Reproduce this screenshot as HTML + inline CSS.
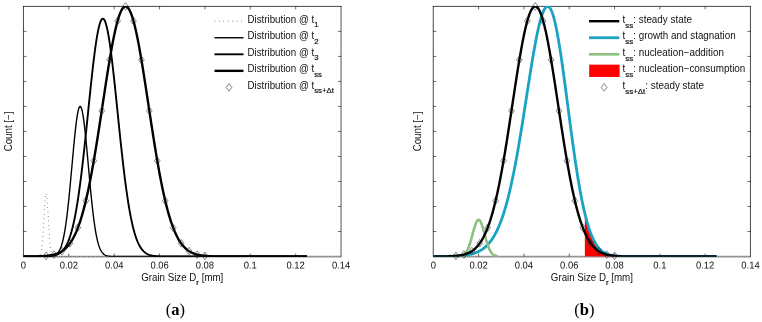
<!DOCTYPE html>
<html><head><meta charset="utf-8"><title>Figure</title>
<style>html,body{margin:0;padding:0;background:#fff}svg{display:block}</style></head>
<body>
<svg width="762" height="322" viewBox="0 0 762 322" font-family="Liberation Sans, Arial, sans-serif" font-size="10" fill="#111">
<rect width="762" height="322" fill="#fff"/>
<path d="M23.44,6.04V256.86" stroke="#000" stroke-width="0.72"/>
<path d="M23.08,6.40H341.41" stroke="#000" stroke-width="0.72"/>
<path d="M341.05,6.04V256.86" stroke="#000" stroke-width="1.6" stroke-opacity="0.42"/>
<path d="M23.08,256.60H341.41" stroke="#000" stroke-width="1.6" stroke-opacity="0.42"/>
<path d="M68.81,256.50v-3.0M68.81,6.40v3.0M114.19,256.50v-3.0M114.19,6.40v3.0M159.56,256.50v-3.0M159.56,6.40v3.0M204.93,256.50v-3.0M204.93,6.40v3.0M250.30,256.50v-3.0M250.30,6.40v3.0M295.68,256.50v-3.0M295.68,6.40v3.0M23.44,231.49h3.0M341.05,231.49h-3.0M23.44,206.48h3.0M341.05,206.48h-3.0M23.44,181.47h3.0M341.05,181.47h-3.0M23.44,156.46h3.0M341.05,156.46h-3.0M23.44,131.45h3.0M341.05,131.45h-3.0M23.44,106.44h3.0M341.05,106.44h-3.0M23.44,81.43h3.0M341.05,81.43h-3.0M23.44,56.42h3.0M341.05,56.42h-3.0M23.44,31.41h3.0M341.05,31.41h-3.0" stroke="#000" stroke-width="0.72" stroke-opacity="0.8" fill="none"/>
<text transform="translate(23.44,268.60) rotate(0.06) scale(0.955,1)" text-anchor="middle" font-size="9.9">0</text>
<text transform="translate(68.81,268.60) rotate(0.06) scale(0.955,1)" text-anchor="middle" font-size="9.9">0.02</text>
<text transform="translate(114.19,268.60) rotate(0.06) scale(0.955,1)" text-anchor="middle" font-size="9.9">0.04</text>
<text transform="translate(159.56,268.60) rotate(0.06) scale(0.955,1)" text-anchor="middle" font-size="9.9">0.06</text>
<text transform="translate(204.93,268.60) rotate(0.06) scale(0.955,1)" text-anchor="middle" font-size="9.9">0.08</text>
<text transform="translate(250.30,268.60) rotate(0.06) scale(0.955,1)" text-anchor="middle" font-size="9.9">0.1</text>
<text transform="translate(295.68,268.60) rotate(0.06) scale(0.955,1)" text-anchor="middle" font-size="9.9">0.12</text>
<text transform="translate(341.05,268.60) rotate(0.06) scale(0.955,1)" text-anchor="middle" font-size="9.9">0.14</text>
<text transform="translate(182.25,280.70) rotate(0.02) scale(0.975,1)" text-anchor="middle">Grain Size D<tspan dy="4.0" font-size="8.0" stroke="#111" stroke-width="0.2">r</tspan><tspan dy="-4.0" stroke="none"> [mm]</tspan></text>
<text transform="translate(11.74,131.45) rotate(-90.02) scale(0.975,1)" text-anchor="middle">Count [−]</text>
<clipPath id="ca"><rect x="23.44" y="6.10" width="317.61" height="250.70"/></clipPath><g clip-path="url(#ca)">
<path d="M23.44,256.50 L24.01,256.50 L24.57,256.50 L25.14,256.50 L25.71,256.50 L26.28,256.50 L26.84,256.50 L27.41,256.50 L27.98,256.50 L28.54,256.50 L29.11,256.50 L29.68,256.50 L30.25,256.50 L30.81,256.50 L31.38,256.50 L31.95,256.50 L32.51,256.50 L33.08,256.50 L33.65,256.50 L34.22,256.50 L34.78,256.50 L35.35,256.50 L35.92,256.50 L36.48,256.50 L37.05,256.49 L37.62,256.46 L38.19,256.41 L38.75,256.27 L39.32,255.97 L39.89,255.36 L40.45,254.22 L41.02,252.21 L41.59,248.95 L42.16,244.07 L42.72,237.36 L43.29,228.92 L43.86,219.31 L44.42,209.57 L44.99,201.10 L45.56,195.29 L46.13,193.22 L46.69,195.29 L47.26,201.10 L47.83,209.57 L48.40,219.31 L48.96,228.92 L49.53,237.36 L50.10,244.07 L50.66,248.95 L51.23,252.21 L51.80,254.22 L52.37,255.36 L52.93,255.97 L53.50,256.27 L54.07,256.41 L54.63,256.46 L55.20,256.49 L55.77,256.50 L56.34,256.50 L56.90,256.50 L57.47,256.50 L58.04,256.50 L58.60,256.50 L59.17,256.50 L59.74,256.50 L60.31,256.50 L60.87,256.50 L61.44,256.50 L62.01,256.50 L62.57,256.50 L63.14,256.50 L63.71,256.50 L64.28,256.50 L64.84,256.50 L65.41,256.50 L65.98,256.50 L66.54,256.50 L67.11,256.50 L67.68,256.50 L68.25,256.50 L68.81,256.50 L69.38,256.50 L69.95,256.50 L70.51,256.50 L71.08,256.50 L71.65,256.50 L72.22,256.50 L72.78,256.50 L73.35,256.50 L73.92,256.50 L74.48,256.50 L75.05,256.50 L75.62,256.50 L76.19,256.50 L76.75,256.50 L77.32,256.50 L77.89,256.50 L78.45,256.50 L79.02,256.50 L79.59,256.50 L80.16,256.50 L80.72,256.50 L81.29,256.50 L81.86,256.50 L82.42,256.50 L82.99,256.50 L83.56,256.50 L84.13,256.50 L84.69,256.50 L85.26,256.50 L85.83,256.50 L86.39,256.50 L86.96,256.50 L87.53,256.50 L88.10,256.50 L88.66,256.50 L89.23,256.50 L89.80,256.50 L90.36,256.50 L90.93,256.50 L91.50,256.50 L92.07,256.50 L92.63,256.50 L93.20,256.50 L93.77,256.50 L94.34,256.50 L94.90,256.50 L95.47,256.50 L96.04,256.50 L96.60,256.50 L97.17,256.50 L97.74,256.50 L98.31,256.50 L98.87,256.50 L99.44,256.50 L100.01,256.50 L100.57,256.50 L101.14,256.50 L101.71,256.50 L102.28,256.50 L102.84,256.50 L103.41,256.50 L103.98,256.50 L104.54,256.50 L105.11,256.50 L105.68,256.50 L106.25,256.50 L106.81,256.50 L107.38,256.50 L107.95,256.50 L108.51,256.50 L109.08,256.50 L109.65,256.50 L110.22,256.50 L110.78,256.50 L111.35,256.50 L111.92,256.50 L112.48,256.50 L113.05,256.50 L113.62,256.50 L114.19,256.50 L114.75,256.50 L115.32,256.50 L115.89,256.50 L116.45,256.50 L117.02,256.50 L117.59,256.50 L118.16,256.50 L118.72,256.50 L119.29,256.50 L119.86,256.50 L120.42,256.50 L120.99,256.50 L121.56,256.50 L122.13,256.50 L122.69,256.50 L123.26,256.50 L123.83,256.50 L124.39,256.50 L124.96,256.50 L125.53,256.50 L126.10,256.50 L126.66,256.50 L127.23,256.50 L127.80,256.50 L128.36,256.50 L128.93,256.50 L129.50,256.50 L130.07,256.50 L130.63,256.50 L131.20,256.50 L131.77,256.50 L132.33,256.50 L132.90,256.50 L133.47,256.50 L134.04,256.50 L134.60,256.50 L135.17,256.50 L135.74,256.50 L136.30,256.50 L136.87,256.50 L137.44,256.50 L138.01,256.50 L138.57,256.50 L139.14,256.50 L139.71,256.50 L140.28,256.50 L140.84,256.50 L141.41,256.50 L141.98,256.50 L142.54,256.50 L143.11,256.50 L143.68,256.50 L144.25,256.50 L144.81,256.50 L145.38,256.50 L145.95,256.50 L146.51,256.50 L147.08,256.50 L147.65,256.50 L148.22,256.50 L148.78,256.50 L149.35,256.50 L149.92,256.50 L150.48,256.50 L151.05,256.50 L151.62,256.50 L152.19,256.50 L152.75,256.50 L153.32,256.50 L153.89,256.50 L154.45,256.50 L155.02,256.50 L155.59,256.50 L156.16,256.50 L156.72,256.50 L157.29,256.50 L157.86,256.50 L158.42,256.50 L158.99,256.50 L159.56,256.50 L160.13,256.50 L160.69,256.50 L161.26,256.50 L161.83,256.50 L162.39,256.50 L162.96,256.50 L163.53,256.50 L164.10,256.50 L164.66,256.50 L165.23,256.50 L165.80,256.50 L166.36,256.50 L166.93,256.50 L167.50,256.50 L168.07,256.50 L168.63,256.50 L169.20,256.50 L169.77,256.50 L170.33,256.50 L170.90,256.50 L171.47,256.50 L172.04,256.50 L172.60,256.50 L173.17,256.50 L173.74,256.50 L174.30,256.50 L174.87,256.50 L175.44,256.50 L176.01,256.50 L176.57,256.50 L177.14,256.50 L177.71,256.50 L178.27,256.50 L178.84,256.50 L179.41,256.50 L179.98,256.50 L180.54,256.50 L181.11,256.50 L181.68,256.50 L182.25,256.50 L182.81,256.50 L183.38,256.50 L183.95,256.50 L184.51,256.50 L185.08,256.50 L185.65,256.50 L186.22,256.50 L186.78,256.50 L187.35,256.50 L187.92,256.50 L188.48,256.50 L189.05,256.50 L189.62,256.50 L190.19,256.50 L190.75,256.50 L191.32,256.50 L191.89,256.50 L192.45,256.50 L193.02,256.50 L193.59,256.50 L194.16,256.50 L194.72,256.50 L195.29,256.50 L195.86,256.50 L196.42,256.50 L196.99,256.50 L197.56,256.50 L198.13,256.50 L198.69,256.50 L199.26,256.50 L199.83,256.50 L200.39,256.50 L200.96,256.50 L201.53,256.50 L202.10,256.50 L202.66,256.50 L203.23,256.50 L203.80,256.50 L204.36,256.50 L204.93,256.50 L205.50,256.50 L206.07,256.50 L206.63,256.50 L207.20,256.50 L207.77,256.50 L208.33,256.50 L208.90,256.50 L209.47,256.50 L210.04,256.50 L210.60,256.50 L211.17,256.50 L211.74,256.50 L212.30,256.50 L212.87,256.50 L213.44,256.50 L214.01,256.50 L214.57,256.50 L215.14,256.50 L215.71,256.50 L216.27,256.50 L216.84,256.50 L217.41,256.50 L217.98,256.50 L218.54,256.50 L219.11,256.50 L219.68,256.50 L220.24,256.50 L220.81,256.50 L221.38,256.50 L221.95,256.50 L222.51,256.50 L223.08,256.50 L223.65,256.50 L224.21,256.50 L224.78,256.50 L225.35,256.50 L225.92,256.50 L226.48,256.50 L227.05,256.50 L227.62,256.50 L228.19,256.50 L228.75,256.50 L229.32,256.50 L229.89,256.50 L230.45,256.50 L231.02,256.50 L231.59,256.50 L232.16,256.50 L232.72,256.50 L233.29,256.50 L233.86,256.50 L234.42,256.50 L234.99,256.50 L235.56,256.50 L236.13,256.50 L236.69,256.50 L237.26,256.50 L237.83,256.50 L238.39,256.50 L238.96,256.50 L239.53,256.50 L240.10,256.50 L240.66,256.50 L241.23,256.50 L241.80,256.50 L242.36,256.50 L242.93,256.50 L243.50,256.50 L244.07,256.50 L244.63,256.50 L245.20,256.50 L245.77,256.50 L246.33,256.50 L246.90,256.50 L247.47,256.50 L248.04,256.50 L248.60,256.50 L249.17,256.50 L249.74,256.50 L250.30,256.50 L250.87,256.50 L251.44,256.50 L252.01,256.50 L252.57,256.50 L253.14,256.50 L253.71,256.50 L254.27,256.50 L254.84,256.50 L255.41,256.50 L255.98,256.50 L256.54,256.50 L257.11,256.50 L257.68,256.50 L258.24,256.50 L258.81,256.50 L259.38,256.50 L259.95,256.50 L260.51,256.50 L261.08,256.50 L261.65,256.50 L262.21,256.50 L262.78,256.50 L263.35,256.50 L263.92,256.50 L264.48,256.50 L265.05,256.50 L265.62,256.50 L266.18,256.50 L266.75,256.50 L267.32,256.50 L267.89,256.50 L268.45,256.50 L269.02,256.50 L269.59,256.50 L270.15,256.50 L270.72,256.50 L271.29,256.50 L271.86,256.50 L272.42,256.50 L272.99,256.50 L273.56,256.50 L274.13,256.50 L274.69,256.50 L275.26,256.50 L275.83,256.50 L276.39,256.50 L276.96,256.50 L277.53,256.50 L278.10,256.50 L278.66,256.50 L279.23,256.50 L279.80,256.50 L280.36,256.50 L280.93,256.50 L281.50,256.50 L282.07,256.50 L282.63,256.50 L283.20,256.50 L283.77,256.50 L284.33,256.50 L284.90,256.50 L285.47,256.50 L286.04,256.50 L286.60,256.50 L287.17,256.50 L287.74,256.50 L288.30,256.50 L288.87,256.50 L289.44,256.50 L290.01,256.50 L290.57,256.50 L291.14,256.50 L291.71,256.50 L292.27,256.50 L292.84,256.50 L293.41,256.50 L293.98,256.50 L294.54,256.50 L295.11,256.50 L295.68,256.50 L296.24,256.50 L296.81,256.50 L297.38,256.50 L297.95,256.50 L298.51,256.50 L299.08,256.50 L299.65,256.50 L300.21,256.50 L300.78,256.50 L301.35,256.50 L301.92,256.50 L302.48,256.50 L303.05,256.50 L303.62,256.50 L304.18,256.50 L304.75,256.50 L305.32,256.50 L305.89,256.50 L306.45,256.50 L307.02,256.50" fill="none" stroke="#222" stroke-width="0.7" stroke-dasharray="0.75,3.7"/>
<path d="M23.44,256.50 L24.01,256.50 L24.57,256.50 L25.14,256.50 L25.71,256.50 L26.28,256.50 L26.84,256.50 L27.41,256.50 L27.98,256.50 L28.54,256.50 L29.11,256.50 L29.68,256.50 L30.25,256.50 L30.81,256.50 L31.38,256.50 L31.95,256.50 L32.51,256.50 L33.08,256.50 L33.65,256.50 L34.22,256.50 L34.78,256.50 L35.35,256.50 L35.92,256.50 L36.48,256.50 L37.05,256.50 L37.62,256.50 L38.19,256.50 L38.75,256.50 L39.32,256.50 L39.89,256.50 L40.45,256.50 L41.02,256.50 L41.59,256.50 L42.16,256.50 L42.72,256.50 L43.29,256.49 L43.86,256.49 L44.42,256.49 L44.99,256.49 L45.56,256.48 L46.13,256.47 L46.69,256.47 L47.26,256.45 L47.83,256.44 L48.40,256.42 L48.96,256.40 L49.53,256.37 L50.10,256.33 L50.66,256.28 L51.23,256.22 L51.80,256.14 L52.37,256.04 L52.93,255.92 L53.50,255.77 L54.07,255.59 L54.63,255.36 L55.20,255.09 L55.77,254.76 L56.34,254.37 L56.90,253.89 L57.47,253.33 L58.04,252.67 L58.60,251.89 L59.17,250.97 L59.74,249.91 L60.31,248.68 L60.87,247.26 L61.44,245.64 L62.01,243.80 L62.57,241.71 L63.14,239.37 L63.71,236.75 L64.28,233.84 L64.84,230.63 L65.41,227.10 L65.98,223.25 L66.54,219.08 L67.11,214.59 L67.68,209.79 L68.25,204.69 L68.81,199.30 L69.38,193.66 L69.95,187.80 L70.51,181.75 L71.08,175.56 L71.65,169.27 L72.22,162.96 L72.78,156.66 L73.35,150.46 L73.92,144.41 L74.48,138.59 L75.05,133.06 L75.62,127.90 L76.19,123.16 L76.75,118.92 L77.32,115.22 L77.89,112.12 L78.45,109.66 L79.02,107.88 L79.59,106.80 L80.16,106.44 L80.72,106.80 L81.29,107.88 L81.86,109.66 L82.42,112.12 L82.99,115.22 L83.56,118.92 L84.13,123.16 L84.69,127.90 L85.26,133.06 L85.83,138.59 L86.39,144.41 L86.96,150.46 L87.53,156.66 L88.10,162.96 L88.66,169.27 L89.23,175.56 L89.80,181.75 L90.36,187.80 L90.93,193.66 L91.50,199.30 L92.07,204.69 L92.63,209.79 L93.20,214.59 L93.77,219.08 L94.34,223.25 L94.90,227.10 L95.47,230.63 L96.04,233.84 L96.60,236.75 L97.17,239.37 L97.74,241.71 L98.31,243.80 L98.87,245.64 L99.44,247.26 L100.01,248.68 L100.57,249.91 L101.14,250.97 L101.71,251.89 L102.28,252.67 L102.84,253.33 L103.41,253.89 L103.98,254.37 L104.54,254.76 L105.11,255.09 L105.68,255.36 L106.25,255.59 L106.81,255.77 L107.38,255.92 L107.95,256.04 L108.51,256.14 L109.08,256.22 L109.65,256.28 L110.22,256.33 L110.78,256.37 L111.35,256.40 L111.92,256.42 L112.48,256.44 L113.05,256.45 L113.62,256.47 L114.19,256.47 L114.75,256.48 L115.32,256.49 L115.89,256.49 L116.45,256.49 L117.02,256.49 L117.59,256.50 L118.16,256.50 L118.72,256.50 L119.29,256.50 L119.86,256.50 L120.42,256.50 L120.99,256.50 L121.56,256.50 L122.13,256.50 L122.69,256.50 L123.26,256.50 L123.83,256.50 L124.39,256.50 L124.96,256.50 L125.53,256.50 L126.10,256.50 L126.66,256.50 L127.23,256.50 L127.80,256.50 L128.36,256.50 L128.93,256.50 L129.50,256.50 L130.07,256.50 L130.63,256.50 L131.20,256.50 L131.77,256.50 L132.33,256.50 L132.90,256.50 L133.47,256.50 L134.04,256.50 L134.60,256.50 L135.17,256.50 L135.74,256.50 L136.30,256.50 L136.87,256.50 L137.44,256.50 L138.01,256.50 L138.57,256.50 L139.14,256.50 L139.71,256.50 L140.28,256.50 L140.84,256.50 L141.41,256.50 L141.98,256.50 L142.54,256.50 L143.11,256.50 L143.68,256.50 L144.25,256.50 L144.81,256.50 L145.38,256.50 L145.95,256.50 L146.51,256.50 L147.08,256.50 L147.65,256.50 L148.22,256.50 L148.78,256.50 L149.35,256.50 L149.92,256.50 L150.48,256.50 L151.05,256.50 L151.62,256.50 L152.19,256.50 L152.75,256.50 L153.32,256.50 L153.89,256.50 L154.45,256.50 L155.02,256.50 L155.59,256.50 L156.16,256.50 L156.72,256.50 L157.29,256.50 L157.86,256.50 L158.42,256.50 L158.99,256.50 L159.56,256.50 L160.13,256.50 L160.69,256.50 L161.26,256.50 L161.83,256.50 L162.39,256.50 L162.96,256.50 L163.53,256.50 L164.10,256.50 L164.66,256.50 L165.23,256.50 L165.80,256.50 L166.36,256.50 L166.93,256.50 L167.50,256.50 L168.07,256.50 L168.63,256.50 L169.20,256.50 L169.77,256.50 L170.33,256.50 L170.90,256.50 L171.47,256.50 L172.04,256.50 L172.60,256.50 L173.17,256.50 L173.74,256.50 L174.30,256.50 L174.87,256.50 L175.44,256.50 L176.01,256.50 L176.57,256.50 L177.14,256.50 L177.71,256.50 L178.27,256.50 L178.84,256.50 L179.41,256.50 L179.98,256.50 L180.54,256.50 L181.11,256.50 L181.68,256.50 L182.25,256.50 L182.81,256.50 L183.38,256.50 L183.95,256.50 L184.51,256.50 L185.08,256.50 L185.65,256.50 L186.22,256.50 L186.78,256.50 L187.35,256.50 L187.92,256.50 L188.48,256.50 L189.05,256.50 L189.62,256.50 L190.19,256.50 L190.75,256.50 L191.32,256.50 L191.89,256.50 L192.45,256.50 L193.02,256.50 L193.59,256.50 L194.16,256.50 L194.72,256.50 L195.29,256.50 L195.86,256.50 L196.42,256.50 L196.99,256.50 L197.56,256.50 L198.13,256.50 L198.69,256.50 L199.26,256.50 L199.83,256.50 L200.39,256.50 L200.96,256.50 L201.53,256.50 L202.10,256.50 L202.66,256.50 L203.23,256.50 L203.80,256.50 L204.36,256.50 L204.93,256.50 L205.50,256.50 L206.07,256.50 L206.63,256.50 L207.20,256.50 L207.77,256.50 L208.33,256.50 L208.90,256.50 L209.47,256.50 L210.04,256.50 L210.60,256.50 L211.17,256.50 L211.74,256.50 L212.30,256.50 L212.87,256.50 L213.44,256.50 L214.01,256.50 L214.57,256.50 L215.14,256.50 L215.71,256.50 L216.27,256.50 L216.84,256.50 L217.41,256.50 L217.98,256.50 L218.54,256.50 L219.11,256.50 L219.68,256.50 L220.24,256.50 L220.81,256.50 L221.38,256.50 L221.95,256.50 L222.51,256.50 L223.08,256.50 L223.65,256.50 L224.21,256.50 L224.78,256.50 L225.35,256.50 L225.92,256.50 L226.48,256.50 L227.05,256.50 L227.62,256.50 L228.19,256.50 L228.75,256.50 L229.32,256.50 L229.89,256.50 L230.45,256.50 L231.02,256.50 L231.59,256.50 L232.16,256.50 L232.72,256.50 L233.29,256.50 L233.86,256.50 L234.42,256.50 L234.99,256.50 L235.56,256.50 L236.13,256.50 L236.69,256.50 L237.26,256.50 L237.83,256.50 L238.39,256.50 L238.96,256.50 L239.53,256.50 L240.10,256.50 L240.66,256.50 L241.23,256.50 L241.80,256.50 L242.36,256.50 L242.93,256.50 L243.50,256.50 L244.07,256.50 L244.63,256.50 L245.20,256.50 L245.77,256.50 L246.33,256.50 L246.90,256.50 L247.47,256.50 L248.04,256.50 L248.60,256.50 L249.17,256.50 L249.74,256.50 L250.30,256.50 L250.87,256.50 L251.44,256.50 L252.01,256.50 L252.57,256.50 L253.14,256.50 L253.71,256.50 L254.27,256.50 L254.84,256.50 L255.41,256.50 L255.98,256.50 L256.54,256.50 L257.11,256.50 L257.68,256.50 L258.24,256.50 L258.81,256.50 L259.38,256.50 L259.95,256.50 L260.51,256.50 L261.08,256.50 L261.65,256.50 L262.21,256.50 L262.78,256.50 L263.35,256.50 L263.92,256.50 L264.48,256.50 L265.05,256.50 L265.62,256.50 L266.18,256.50 L266.75,256.50 L267.32,256.50 L267.89,256.50 L268.45,256.50 L269.02,256.50 L269.59,256.50 L270.15,256.50 L270.72,256.50 L271.29,256.50 L271.86,256.50 L272.42,256.50 L272.99,256.50 L273.56,256.50 L274.13,256.50 L274.69,256.50 L275.26,256.50 L275.83,256.50 L276.39,256.50 L276.96,256.50 L277.53,256.50 L278.10,256.50 L278.66,256.50 L279.23,256.50 L279.80,256.50 L280.36,256.50 L280.93,256.50 L281.50,256.50 L282.07,256.50 L282.63,256.50 L283.20,256.50 L283.77,256.50 L284.33,256.50 L284.90,256.50 L285.47,256.50 L286.04,256.50 L286.60,256.50 L287.17,256.50 L287.74,256.50 L288.30,256.50 L288.87,256.50 L289.44,256.50 L290.01,256.50 L290.57,256.50 L291.14,256.50 L291.71,256.50 L292.27,256.50 L292.84,256.50 L293.41,256.50 L293.98,256.50 L294.54,256.50 L295.11,256.50 L295.68,256.50 L296.24,256.50 L296.81,256.50 L297.38,256.50 L297.95,256.50 L298.51,256.50 L299.08,256.50 L299.65,256.50 L300.21,256.50 L300.78,256.50 L301.35,256.50 L301.92,256.50 L302.48,256.50 L303.05,256.50 L303.62,256.50 L304.18,256.50 L304.75,256.50 L305.32,256.50 L305.89,256.50 L306.45,256.50 L307.02,256.50" fill="none" stroke="#000" stroke-width="1.4"/>
<path d="M23.44,256.50 L24.01,256.50 L24.57,256.50 L25.14,256.50 L25.71,256.50 L26.28,256.50 L26.84,256.50 L27.41,256.50 L27.98,256.50 L28.54,256.50 L29.11,256.50 L29.68,256.50 L30.25,256.50 L30.81,256.50 L31.38,256.50 L31.95,256.50 L32.51,256.50 L33.08,256.50 L33.65,256.50 L34.22,256.50 L34.78,256.49 L35.35,256.49 L35.92,256.49 L36.48,256.49 L37.05,256.49 L37.62,256.49 L38.19,256.48 L38.75,256.48 L39.32,256.48 L39.89,256.47 L40.45,256.47 L41.02,256.46 L41.59,256.46 L42.16,256.45 L42.72,256.44 L43.29,256.43 L43.86,256.42 L44.42,256.41 L44.99,256.39 L45.56,256.37 L46.13,256.35 L46.69,256.33 L47.26,256.30 L47.83,256.27 L48.40,256.24 L48.96,256.20 L49.53,256.15 L50.10,256.10 L50.66,256.05 L51.23,255.98 L51.80,255.91 L52.37,255.82 L52.93,255.73 L53.50,255.62 L54.07,255.50 L54.63,255.36 L55.20,255.21 L55.77,255.04 L56.34,254.85 L56.90,254.64 L57.47,254.41 L58.04,254.15 L58.60,253.86 L59.17,253.54 L59.74,253.18 L60.31,252.79 L60.87,252.36 L61.44,251.88 L62.01,251.36 L62.57,250.79 L63.14,250.16 L63.71,249.47 L64.28,248.72 L64.84,247.90 L65.41,247.01 L65.98,246.05 L66.54,245.00 L67.11,243.87 L67.68,242.65 L68.25,241.33 L68.81,239.91 L69.38,238.38 L69.95,236.74 L70.51,234.99 L71.08,233.12 L71.65,231.11 L72.22,228.98 L72.78,226.72 L73.35,224.31 L73.92,221.76 L74.48,219.07 L75.05,216.22 L75.62,213.23 L76.19,210.08 L76.75,206.77 L77.32,203.31 L77.89,199.69 L78.45,195.92 L79.02,191.99 L79.59,187.90 L80.16,183.67 L80.72,179.28 L81.29,174.76 L81.86,170.09 L82.42,165.30 L82.99,160.38 L83.56,155.35 L84.13,150.21 L84.69,144.98 L85.26,139.66 L85.83,134.27 L86.39,128.81 L86.96,123.32 L87.53,117.79 L88.10,112.24 L88.66,106.69 L89.23,101.16 L89.80,95.67 L90.36,90.23 L90.93,84.85 L91.50,79.57 L92.07,74.39 L92.63,69.34 L93.20,64.43 L93.77,59.68 L94.34,55.12 L94.90,50.75 L95.47,46.60 L96.04,42.69 L96.60,39.02 L97.17,35.61 L97.74,32.49 L98.31,29.65 L98.87,27.12 L99.44,24.90 L100.01,23.01 L100.57,21.45 L101.14,20.23 L101.71,19.36 L102.28,18.83 L102.84,18.65 L103.41,18.83 L103.98,19.36 L104.54,20.23 L105.11,21.45 L105.68,23.01 L106.25,24.90 L106.81,27.12 L107.38,29.65 L107.95,32.49 L108.51,35.61 L109.08,39.02 L109.65,42.69 L110.22,46.60 L110.78,50.75 L111.35,55.12 L111.92,59.68 L112.48,64.43 L113.05,69.34 L113.62,74.39 L114.19,79.57 L114.75,84.85 L115.32,90.23 L115.89,95.67 L116.45,101.16 L117.02,106.69 L117.59,112.24 L118.16,117.79 L118.72,123.32 L119.29,128.81 L119.86,134.27 L120.42,139.66 L120.99,144.98 L121.56,150.21 L122.13,155.35 L122.69,160.38 L123.26,165.30 L123.83,170.09 L124.39,174.76 L124.96,179.28 L125.53,183.67 L126.10,187.90 L126.66,191.99 L127.23,195.92 L127.80,199.69 L128.36,203.31 L128.93,206.77 L129.50,210.08 L130.07,213.23 L130.63,216.22 L131.20,219.07 L131.77,221.76 L132.33,224.31 L132.90,226.72 L133.47,228.98 L134.04,231.11 L134.60,233.12 L135.17,234.99 L135.74,236.74 L136.30,238.38 L136.87,239.91 L137.44,241.33 L138.01,242.65 L138.57,243.87 L139.14,245.00 L139.71,246.05 L140.28,247.01 L140.84,247.90 L141.41,248.72 L141.98,249.47 L142.54,250.16 L143.11,250.79 L143.68,251.36 L144.25,251.88 L144.81,252.36 L145.38,252.79 L145.95,253.18 L146.51,253.54 L147.08,253.86 L147.65,254.15 L148.22,254.41 L148.78,254.64 L149.35,254.85 L149.92,255.04 L150.48,255.21 L151.05,255.36 L151.62,255.50 L152.19,255.62 L152.75,255.73 L153.32,255.82 L153.89,255.91 L154.45,255.98 L155.02,256.05 L155.59,256.10 L156.16,256.15 L156.72,256.20 L157.29,256.24 L157.86,256.27 L158.42,256.30 L158.99,256.33 L159.56,256.35 L160.13,256.37 L160.69,256.39 L161.26,256.41 L161.83,256.42 L162.39,256.43 L162.96,256.44 L163.53,256.45 L164.10,256.46 L164.66,256.46 L165.23,256.47 L165.80,256.47 L166.36,256.48 L166.93,256.48 L167.50,256.48 L168.07,256.49 L168.63,256.49 L169.20,256.49 L169.77,256.49 L170.33,256.49 L170.90,256.49 L171.47,256.50 L172.04,256.50 L172.60,256.50 L173.17,256.50 L173.74,256.50 L174.30,256.50 L174.87,256.50 L175.44,256.50 L176.01,256.50 L176.57,256.50 L177.14,256.50 L177.71,256.50 L178.27,256.50 L178.84,256.50 L179.41,256.50 L179.98,256.50 L180.54,256.50 L181.11,256.50 L181.68,256.50 L182.25,256.50 L182.81,256.50 L183.38,256.50 L183.95,256.50 L184.51,256.50 L185.08,256.50 L185.65,256.50 L186.22,256.50 L186.78,256.50 L187.35,256.50 L187.92,256.50 L188.48,256.50 L189.05,256.50 L189.62,256.50 L190.19,256.50 L190.75,256.50 L191.32,256.50 L191.89,256.50 L192.45,256.50 L193.02,256.50 L193.59,256.50 L194.16,256.50 L194.72,256.50 L195.29,256.50 L195.86,256.50 L196.42,256.50 L196.99,256.50 L197.56,256.50 L198.13,256.50 L198.69,256.50 L199.26,256.50 L199.83,256.50 L200.39,256.50 L200.96,256.50 L201.53,256.50 L202.10,256.50 L202.66,256.50 L203.23,256.50 L203.80,256.50 L204.36,256.50 L204.93,256.50 L205.50,256.50 L206.07,256.50 L206.63,256.50 L207.20,256.50 L207.77,256.50 L208.33,256.50 L208.90,256.50 L209.47,256.50 L210.04,256.50 L210.60,256.50 L211.17,256.50 L211.74,256.50 L212.30,256.50 L212.87,256.50 L213.44,256.50 L214.01,256.50 L214.57,256.50 L215.14,256.50 L215.71,256.50 L216.27,256.50 L216.84,256.50 L217.41,256.50 L217.98,256.50 L218.54,256.50 L219.11,256.50 L219.68,256.50 L220.24,256.50 L220.81,256.50 L221.38,256.50 L221.95,256.50 L222.51,256.50 L223.08,256.50 L223.65,256.50 L224.21,256.50 L224.78,256.50 L225.35,256.50 L225.92,256.50 L226.48,256.50 L227.05,256.50 L227.62,256.50 L228.19,256.50 L228.75,256.50 L229.32,256.50 L229.89,256.50 L230.45,256.50 L231.02,256.50 L231.59,256.50 L232.16,256.50 L232.72,256.50 L233.29,256.50 L233.86,256.50 L234.42,256.50 L234.99,256.50 L235.56,256.50 L236.13,256.50 L236.69,256.50 L237.26,256.50 L237.83,256.50 L238.39,256.50 L238.96,256.50 L239.53,256.50 L240.10,256.50 L240.66,256.50 L241.23,256.50 L241.80,256.50 L242.36,256.50 L242.93,256.50 L243.50,256.50 L244.07,256.50 L244.63,256.50 L245.20,256.50 L245.77,256.50 L246.33,256.50 L246.90,256.50 L247.47,256.50 L248.04,256.50 L248.60,256.50 L249.17,256.50 L249.74,256.50 L250.30,256.50 L250.87,256.50 L251.44,256.50 L252.01,256.50 L252.57,256.50 L253.14,256.50 L253.71,256.50 L254.27,256.50 L254.84,256.50 L255.41,256.50 L255.98,256.50 L256.54,256.50 L257.11,256.50 L257.68,256.50 L258.24,256.50 L258.81,256.50 L259.38,256.50 L259.95,256.50 L260.51,256.50 L261.08,256.50 L261.65,256.50 L262.21,256.50 L262.78,256.50 L263.35,256.50 L263.92,256.50 L264.48,256.50 L265.05,256.50 L265.62,256.50 L266.18,256.50 L266.75,256.50 L267.32,256.50 L267.89,256.50 L268.45,256.50 L269.02,256.50 L269.59,256.50 L270.15,256.50 L270.72,256.50 L271.29,256.50 L271.86,256.50 L272.42,256.50 L272.99,256.50 L273.56,256.50 L274.13,256.50 L274.69,256.50 L275.26,256.50 L275.83,256.50 L276.39,256.50 L276.96,256.50 L277.53,256.50 L278.10,256.50 L278.66,256.50 L279.23,256.50 L279.80,256.50 L280.36,256.50 L280.93,256.50 L281.50,256.50 L282.07,256.50 L282.63,256.50 L283.20,256.50 L283.77,256.50 L284.33,256.50 L284.90,256.50 L285.47,256.50 L286.04,256.50 L286.60,256.50 L287.17,256.50 L287.74,256.50 L288.30,256.50 L288.87,256.50 L289.44,256.50 L290.01,256.50 L290.57,256.50 L291.14,256.50 L291.71,256.50 L292.27,256.50 L292.84,256.50 L293.41,256.50 L293.98,256.50 L294.54,256.50 L295.11,256.50 L295.68,256.50 L296.24,256.50 L296.81,256.50 L297.38,256.50 L297.95,256.50 L298.51,256.50 L299.08,256.50 L299.65,256.50 L300.21,256.50 L300.78,256.50 L301.35,256.50 L301.92,256.50 L302.48,256.50 L303.05,256.50 L303.62,256.50 L304.18,256.50 L304.75,256.50 L305.32,256.50 L305.89,256.50 L306.45,256.50 L307.02,256.50" fill="none" stroke="#000" stroke-width="1.9"/>
<path d="M23.44,256.49 L24.01,256.49 L24.57,256.48 L25.14,256.48 L25.71,256.48 L26.28,256.48 L26.84,256.48 L27.41,256.47 L27.98,256.47 L28.54,256.47 L29.11,256.46 L29.68,256.46 L30.25,256.46 L30.81,256.45 L31.38,256.45 L31.95,256.44 L32.51,256.43 L33.08,256.43 L33.65,256.42 L34.22,256.41 L34.78,256.40 L35.35,256.39 L35.92,256.38 L36.48,256.37 L37.05,256.36 L37.62,256.34 L38.19,256.33 L38.75,256.31 L39.32,256.29 L39.89,256.27 L40.45,256.25 L41.02,256.22 L41.59,256.20 L42.16,256.17 L42.72,256.14 L43.29,256.10 L43.86,256.06 L44.42,256.02 L44.99,255.98 L45.56,255.93 L46.13,255.88 L46.69,255.83 L47.26,255.77 L47.83,255.70 L48.40,255.63 L48.96,255.56 L49.53,255.48 L50.10,255.39 L50.66,255.30 L51.23,255.20 L51.80,255.09 L52.37,254.97 L52.93,254.85 L53.50,254.71 L54.07,254.57 L54.63,254.41 L55.20,254.25 L55.77,254.07 L56.34,253.88 L56.90,253.68 L57.47,253.46 L58.04,253.23 L58.60,252.99 L59.17,252.73 L59.74,252.45 L60.31,252.15 L60.87,251.83 L61.44,251.50 L62.01,251.14 L62.57,250.76 L63.14,250.36 L63.71,249.93 L64.28,249.48 L64.84,249.00 L65.41,248.50 L65.98,247.96 L66.54,247.40 L67.11,246.80 L67.68,246.17 L68.25,245.51 L68.81,244.81 L69.38,244.08 L69.95,243.31 L70.51,242.49 L71.08,241.64 L71.65,240.75 L72.22,239.81 L72.78,238.82 L73.35,237.79 L73.92,236.71 L74.48,235.58 L75.05,234.41 L75.62,233.17 L76.19,231.89 L76.75,230.55 L77.32,229.15 L77.89,227.70 L78.45,226.19 L79.02,224.62 L79.59,222.99 L80.16,221.29 L80.72,219.53 L81.29,217.71 L81.86,215.83 L82.42,213.88 L82.99,211.86 L83.56,209.77 L84.13,207.62 L84.69,205.40 L85.26,203.11 L85.83,200.76 L86.39,198.33 L86.96,195.84 L87.53,193.28 L88.10,190.65 L88.66,187.95 L89.23,185.19 L89.80,182.36 L90.36,179.46 L90.93,176.51 L91.50,173.48 L92.07,170.40 L92.63,167.26 L93.20,164.06 L93.77,160.80 L94.34,157.49 L94.90,154.13 L95.47,150.72 L96.04,147.26 L96.60,143.76 L97.17,140.22 L97.74,136.64 L98.31,133.02 L98.87,129.38 L99.44,125.70 L100.01,122.01 L100.57,118.29 L101.14,114.56 L101.71,110.81 L102.28,107.06 L102.84,103.30 L103.41,99.55 L103.98,95.81 L104.54,92.07 L105.11,88.35 L105.68,84.66 L106.25,80.98 L106.81,77.34 L107.38,73.74 L107.95,70.18 L108.51,66.67 L109.08,63.20 L109.65,59.80 L110.22,56.46 L110.78,53.18 L111.35,49.98 L111.92,46.86 L112.48,43.82 L113.05,40.86 L113.62,38.00 L114.19,35.24 L114.75,32.58 L115.32,30.03 L115.89,27.59 L116.45,25.26 L117.02,23.06 L117.59,20.97 L118.16,19.02 L118.72,17.19 L119.29,15.50 L119.86,13.95 L120.42,12.53 L120.99,11.26 L121.56,10.13 L122.13,9.14 L122.69,8.31 L123.26,7.62 L123.83,7.09 L124.39,6.71 L124.96,6.48 L125.53,6.40 L126.10,6.48 L126.66,6.71 L127.23,7.09 L127.80,7.62 L128.36,8.31 L128.93,9.14 L129.50,10.13 L130.07,11.26 L130.63,12.53 L131.20,13.95 L131.77,15.50 L132.33,17.19 L132.90,19.02 L133.47,20.97 L134.04,23.06 L134.60,25.26 L135.17,27.59 L135.74,30.03 L136.30,32.58 L136.87,35.24 L137.44,38.00 L138.01,40.86 L138.57,43.82 L139.14,46.86 L139.71,49.98 L140.28,53.18 L140.84,56.46 L141.41,59.80 L141.98,63.20 L142.54,66.67 L143.11,70.18 L143.68,73.74 L144.25,77.34 L144.81,80.98 L145.38,84.66 L145.95,88.35 L146.51,92.07 L147.08,95.81 L147.65,99.55 L148.22,103.30 L148.78,107.06 L149.35,110.81 L149.92,114.56 L150.48,118.29 L151.05,122.01 L151.62,125.70 L152.19,129.38 L152.75,133.02 L153.32,136.64 L153.89,140.22 L154.45,143.76 L155.02,147.26 L155.59,150.72 L156.16,154.13 L156.72,157.49 L157.29,160.80 L157.86,164.06 L158.42,167.26 L158.99,170.40 L159.56,173.48 L160.13,176.51 L160.69,179.46 L161.26,182.36 L161.83,185.19 L162.39,187.95 L162.96,190.65 L163.53,193.28 L164.10,195.84 L164.66,198.33 L165.23,200.76 L165.80,203.11 L166.36,205.40 L166.93,207.62 L167.50,209.77 L168.07,211.86 L168.63,213.88 L169.20,215.83 L169.77,217.71 L170.33,219.53 L170.90,221.29 L171.47,222.99 L172.04,224.62 L172.60,226.19 L173.17,227.70 L173.74,229.15 L174.30,230.55 L174.87,231.89 L175.44,233.17 L176.01,234.41 L176.57,235.58 L177.14,236.71 L177.71,237.79 L178.27,238.82 L178.84,239.81 L179.41,240.75 L179.98,241.64 L180.54,242.49 L181.11,243.31 L181.68,244.08 L182.25,244.81 L182.81,245.51 L183.38,246.17 L183.95,246.80 L184.51,247.40 L185.08,247.96 L185.65,248.50 L186.22,249.00 L186.78,249.48 L187.35,249.93 L187.92,250.36 L188.48,250.76 L189.05,251.14 L189.62,251.50 L190.19,251.83 L190.75,252.15 L191.32,252.45 L191.89,252.73 L192.45,252.99 L193.02,253.23 L193.59,253.46 L194.16,253.68 L194.72,253.88 L195.29,254.07 L195.86,254.25 L196.42,254.41 L196.99,254.57 L197.56,254.71 L198.13,254.85 L198.69,254.97 L199.26,255.09 L199.83,255.20 L200.39,255.30 L200.96,255.39 L201.53,255.48 L202.10,255.56 L202.66,255.63 L203.23,255.70 L203.80,255.77 L204.36,255.83 L204.93,255.88 L205.50,255.93 L206.07,255.98 L206.63,256.02 L207.20,256.06 L207.77,256.10 L208.33,256.14 L208.90,256.17 L209.47,256.20 L210.04,256.22 L210.60,256.25 L211.17,256.27 L211.74,256.29 L212.30,256.31 L212.87,256.33 L213.44,256.34 L214.01,256.36 L214.57,256.37 L215.14,256.38 L215.71,256.39 L216.27,256.40 L216.84,256.41 L217.41,256.42 L217.98,256.43 L218.54,256.43 L219.11,256.44 L219.68,256.45 L220.24,256.45 L220.81,256.46 L221.38,256.46 L221.95,256.46 L222.51,256.47 L223.08,256.47 L223.65,256.47 L224.21,256.48 L224.78,256.48 L225.35,256.48 L225.92,256.48 L226.48,256.48 L227.05,256.49 L227.62,256.49 L228.19,256.49 L228.75,256.49 L229.32,256.49 L229.89,256.49 L230.45,256.49 L231.02,256.49 L231.59,256.49 L232.16,256.50 L232.72,256.50 L233.29,256.50 L233.86,256.50 L234.42,256.50 L234.99,256.50 L235.56,256.50 L236.13,256.50 L236.69,256.50 L237.26,256.50 L237.83,256.50 L238.39,256.50 L238.96,256.50 L239.53,256.50 L240.10,256.50 L240.66,256.50 L241.23,256.50 L241.80,256.50 L242.36,256.50 L242.93,256.50 L243.50,256.50 L244.07,256.50 L244.63,256.50 L245.20,256.50 L245.77,256.50 L246.33,256.50 L246.90,256.50 L247.47,256.50 L248.04,256.50 L248.60,256.50 L249.17,256.50 L249.74,256.50 L250.30,256.50 L250.87,256.50 L251.44,256.50 L252.01,256.50 L252.57,256.50 L253.14,256.50 L253.71,256.50 L254.27,256.50 L254.84,256.50 L255.41,256.50 L255.98,256.50 L256.54,256.50 L257.11,256.50 L257.68,256.50 L258.24,256.50 L258.81,256.50 L259.38,256.50 L259.95,256.50 L260.51,256.50 L261.08,256.50 L261.65,256.50 L262.21,256.50 L262.78,256.50 L263.35,256.50 L263.92,256.50 L264.48,256.50 L265.05,256.50 L265.62,256.50 L266.18,256.50 L266.75,256.50 L267.32,256.50 L267.89,256.50 L268.45,256.50 L269.02,256.50 L269.59,256.50 L270.15,256.50 L270.72,256.50 L271.29,256.50 L271.86,256.50 L272.42,256.50 L272.99,256.50 L273.56,256.50 L274.13,256.50 L274.69,256.50 L275.26,256.50 L275.83,256.50 L276.39,256.50 L276.96,256.50 L277.53,256.50 L278.10,256.50 L278.66,256.50 L279.23,256.50 L279.80,256.50 L280.36,256.50 L280.93,256.50 L281.50,256.50 L282.07,256.50 L282.63,256.50 L283.20,256.50 L283.77,256.50 L284.33,256.50 L284.90,256.50 L285.47,256.50 L286.04,256.50 L286.60,256.50 L287.17,256.50 L287.74,256.50 L288.30,256.50 L288.87,256.50 L289.44,256.50 L290.01,256.50 L290.57,256.50 L291.14,256.50 L291.71,256.50 L292.27,256.50 L292.84,256.50 L293.41,256.50 L293.98,256.50 L294.54,256.50 L295.11,256.50 L295.68,256.50 L296.24,256.50 L296.81,256.50 L297.38,256.50 L297.95,256.50 L298.51,256.50 L299.08,256.50 L299.65,256.50 L300.21,256.50 L300.78,256.50 L301.35,256.50 L301.92,256.50 L302.48,256.50 L303.05,256.50 L303.62,256.50 L304.18,256.50 L304.75,256.50 L305.32,256.50 L305.89,256.50 L306.45,256.50 L307.02,256.50" fill="none" stroke="#000" stroke-width="2.4"/>
</g>
<path d="M46.13,252.08l2.85,3.80l-2.85,3.80l-2.85,-3.80z" fill="none" stroke="#222" stroke-width="0.55"/>
<path d="M54.07,250.77l2.85,3.80l-2.85,3.80l-2.85,-3.80z" fill="none" stroke="#222" stroke-width="0.55"/>
<path d="M62.01,247.34l2.85,3.80l-2.85,3.80l-2.85,-3.80z" fill="none" stroke="#222" stroke-width="0.55"/>
<path d="M69.95,239.51l2.85,3.80l-2.85,3.80l-2.85,-3.80z" fill="none" stroke="#222" stroke-width="0.55"/>
<path d="M77.89,223.90l2.85,3.80l-2.85,3.80l-2.85,-3.80z" fill="none" stroke="#222" stroke-width="0.55"/>
<path d="M85.83,196.96l2.85,3.80l-2.85,3.80l-2.85,-3.80z" fill="none" stroke="#222" stroke-width="0.55"/>
<path d="M93.77,157.00l2.85,3.80l-2.85,3.80l-2.85,-3.80z" fill="none" stroke="#222" stroke-width="0.55"/>
<path d="M101.71,107.01l2.85,3.80l-2.85,3.80l-2.85,-3.80z" fill="none" stroke="#222" stroke-width="0.55"/>
<path d="M109.65,56.00l2.85,3.80l-2.85,3.80l-2.85,-3.80z" fill="none" stroke="#222" stroke-width="0.55"/>
<path d="M117.59,17.17l2.85,3.80l-2.85,3.80l-2.85,-3.80z" fill="none" stroke="#222" stroke-width="0.55"/>
<path d="M125.53,2.60l2.85,3.80l-2.85,3.80l-2.85,-3.80z" fill="none" stroke="#222" stroke-width="0.55"/>
<path d="M133.47,17.17l2.85,3.80l-2.85,3.80l-2.85,-3.80z" fill="none" stroke="#222" stroke-width="0.55"/>
<path d="M141.41,56.00l2.85,3.80l-2.85,3.80l-2.85,-3.80z" fill="none" stroke="#222" stroke-width="0.55"/>
<path d="M149.35,107.01l2.85,3.80l-2.85,3.80l-2.85,-3.80z" fill="none" stroke="#222" stroke-width="0.55"/>
<path d="M157.29,157.00l2.85,3.80l-2.85,3.80l-2.85,-3.80z" fill="none" stroke="#222" stroke-width="0.55"/>
<path d="M165.23,196.96l2.85,3.80l-2.85,3.80l-2.85,-3.80z" fill="none" stroke="#222" stroke-width="0.55"/>
<path d="M173.17,223.90l2.85,3.80l-2.85,3.80l-2.85,-3.80z" fill="none" stroke="#222" stroke-width="0.55"/>
<path d="M181.11,239.51l2.85,3.80l-2.85,3.80l-2.85,-3.80z" fill="none" stroke="#222" stroke-width="0.55"/>
<path d="M189.05,247.34l2.85,3.80l-2.85,3.80l-2.85,-3.80z" fill="none" stroke="#222" stroke-width="0.55"/>
<path d="M196.99,250.77l2.85,3.80l-2.85,3.80l-2.85,-3.80z" fill="none" stroke="#222" stroke-width="0.55"/>
<path d="M204.93,252.08l2.85,3.80l-2.85,3.80l-2.85,-3.80z" fill="none" stroke="#222" stroke-width="0.55"/>
<path d="M214.5,21.2H243.5" stroke="#222" stroke-width="0.7" stroke-dasharray="0.75,3.7"/>
<path d="M214.5,37.75H243.5" stroke="#000" stroke-width="1.4"/>
<path d="M214.5,54.3H243.5" stroke="#000" stroke-width="1.9"/>
<path d="M214.5,70.85H243.5" stroke="#000" stroke-width="2.4"/>
<path d="M229.00,83.60l2.85,3.80l-2.85,3.80l-2.85,-3.80z" fill="none" stroke="#222" stroke-width="0.55"/>
<text transform="translate(247.50,22.60) rotate(0.02) scale(0.975,1)" text-anchor="start">Distribution @ t<tspan dy="4.5" font-size="8.0" stroke="#111" stroke-width="0.2">1</tspan></text>
<text transform="translate(247.50,39.15) rotate(0.02) scale(0.975,1)" text-anchor="start">Distribution @ t<tspan dy="4.5" font-size="8.0" stroke="#111" stroke-width="0.2">2</tspan></text>
<text transform="translate(247.50,55.70) rotate(0.02) scale(0.975,1)" text-anchor="start">Distribution @ t<tspan dy="4.5" font-size="8.0" stroke="#111" stroke-width="0.2">3</tspan></text>
<text transform="translate(247.50,72.25) rotate(0.02) scale(0.975,1)" text-anchor="start">Distribution @ t<tspan dy="4.5" font-size="8.0" stroke="#111" stroke-width="0.2">ss</tspan></text>
<text transform="translate(247.50,88.80) rotate(0.02) scale(0.975,1)" text-anchor="start">Distribution @ t<tspan dy="4.5" font-size="8.0" stroke="#111" stroke-width="0.2">ss+Δt</tspan></text>
<text x="175.25" y="315.3" text-anchor="middle" font-family="Liberation Serif, serif" font-size="16.5" fill="#000">(<tspan font-weight="bold">a</tspan>)</text>
<path d="M433.30,6.04V256.86" stroke="#000" stroke-width="1.2" stroke-opacity="0.6"/>
<path d="M432.94,6.40H750.81" stroke="#000" stroke-width="0.72"/>
<path d="M750.45,6.04V256.86" stroke="#000" stroke-width="0.72"/>
<path d="M432.94,256.60H750.81" stroke="#000" stroke-width="1.6" stroke-opacity="0.42"/>
<path d="M478.61,256.50v-3.0M478.61,6.40v3.0M523.91,256.50v-3.0M523.91,6.40v3.0M569.22,256.50v-3.0M569.22,6.40v3.0M614.53,256.50v-3.0M614.53,6.40v3.0M659.84,256.50v-3.0M659.84,6.40v3.0M705.14,256.50v-3.0M705.14,6.40v3.0M433.30,231.49h3.0M750.45,231.49h-3.0M433.30,206.48h3.0M750.45,206.48h-3.0M433.30,181.47h3.0M750.45,181.47h-3.0M433.30,156.46h3.0M750.45,156.46h-3.0M433.30,131.45h3.0M750.45,131.45h-3.0M433.30,106.44h3.0M750.45,106.44h-3.0M433.30,81.43h3.0M750.45,81.43h-3.0M433.30,56.42h3.0M750.45,56.42h-3.0M433.30,31.41h3.0M750.45,31.41h-3.0" stroke="#000" stroke-width="0.72" stroke-opacity="0.8" fill="none"/>
<text transform="translate(433.30,268.60) rotate(0.06) scale(0.955,1)" text-anchor="middle" font-size="9.9">0</text>
<text transform="translate(478.61,268.60) rotate(0.06) scale(0.955,1)" text-anchor="middle" font-size="9.9">0.02</text>
<text transform="translate(523.91,268.60) rotate(0.06) scale(0.955,1)" text-anchor="middle" font-size="9.9">0.04</text>
<text transform="translate(569.22,268.60) rotate(0.06) scale(0.955,1)" text-anchor="middle" font-size="9.9">0.06</text>
<text transform="translate(614.53,268.60) rotate(0.06) scale(0.955,1)" text-anchor="middle" font-size="9.9">0.08</text>
<text transform="translate(659.84,268.60) rotate(0.06) scale(0.955,1)" text-anchor="middle" font-size="9.9">0.1</text>
<text transform="translate(705.14,268.60) rotate(0.06) scale(0.955,1)" text-anchor="middle" font-size="9.9">0.12</text>
<text transform="translate(750.45,268.60) rotate(0.06) scale(0.955,1)" text-anchor="middle" font-size="9.9">0.14</text>
<text transform="translate(591.88,280.70) rotate(0.02) scale(0.975,1)" text-anchor="middle">Grain Size D<tspan dy="4.0" font-size="8.0" stroke="#111" stroke-width="0.2">r</tspan><tspan dy="-4.0" stroke="none"> [mm]</tspan></text>
<text transform="translate(421.00,131.45) rotate(-90.02) scale(0.975,1)" text-anchor="middle">Count [−]</text>
<clipPath id="cb"><rect x="433.30" y="6.10" width="317.15" height="250.70"/></clipPath><g clip-path="url(#cb)">
<path d="M584.85,256.50 L584.85,213.56 L585.51,216.25 L586.18,218.81 L586.84,221.26 L587.50,223.58 L588.16,225.79 L588.83,227.89 L589.49,229.87 L590.15,231.75 L590.81,233.52 L591.48,235.20 L592.14,236.77 L592.80,238.25 L593.46,239.64 L594.13,240.95 L594.79,242.17 L595.45,243.31 L596.11,244.37 L596.78,245.37 L597.44,246.29 L598.10,247.15 L598.76,247.95 L599.43,248.69 L600.09,249.37 L600.75,250.01 L601.41,250.59 L602.07,251.13 L602.74,251.63 L603.40,252.08 L604.06,252.50 L604.72,252.88 L605.39,253.23 L606.05,253.55 L606.71,253.85 L607.37,254.11 L608.04,254.35 L608.70,254.57 L609.36,254.77 L610.02,254.96 L610.69,255.12 L611.35,255.27 L612.01,255.40 L612.67,255.52 L613.34,255.63 L614.00,255.73 L614.66,255.82 L615.32,255.89 L615.99,255.96 L616.65,256.03 L617.31,256.08 L617.97,256.13 L618.63,256.18 L619.30,256.22 L619.96,256.25 L620.62,256.28 L621.28,256.31 L621.95,256.33 L622.61,256.35 L623.27,256.37 L623.93,256.39 L624.60,256.40 L625.26,256.42 L625.92,256.43 L626.58,256.44 L627.25,256.45 L627.91,256.45 L628.57,256.46 L629.23,256.47 L629.90,256.47 L630.56,256.47 L631.22,256.48 L631.88,256.48 L632.55,256.48 L633.21,256.49 L633.87,256.49 L634.53,256.49 L635.19,256.49 L635.86,256.49 L636.52,256.49 L637.18,256.49 L637.18,256.50Z" fill="#ff0000"/>
<path d="M433.30,256.47 L433.87,256.47 L434.43,256.46 L435.00,256.46 L435.57,256.46 L436.13,256.45 L436.70,256.45 L437.26,256.45 L437.83,256.44 L438.40,256.44 L438.96,256.44 L439.53,256.43 L440.10,256.43 L440.66,256.42 L441.23,256.42 L441.80,256.41 L442.36,256.40 L442.93,256.40 L443.49,256.39 L444.06,256.38 L444.63,256.37 L445.19,256.37 L445.76,256.36 L446.33,256.35 L446.89,256.34 L447.46,256.32 L448.02,256.31 L448.59,256.30 L449.16,256.29 L449.72,256.27 L450.29,256.26 L450.86,256.24 L451.42,256.22 L451.99,256.20 L452.56,256.18 L453.12,256.16 L453.69,256.14 L454.25,256.11 L454.82,256.09 L455.39,256.06 L455.95,256.03 L456.52,256.00 L457.09,255.97 L457.65,255.93 L458.22,255.90 L458.79,255.86 L459.35,255.82 L459.92,255.77 L460.48,255.73 L461.05,255.68 L461.62,255.62 L462.18,255.57 L462.75,255.51 L463.32,255.45 L463.88,255.38 L464.45,255.31 L465.01,255.23 L465.58,255.16 L466.15,255.07 L466.71,254.98 L467.28,254.89 L467.85,254.79 L468.41,254.69 L468.98,254.58 L469.55,254.46 L470.11,254.34 L470.68,254.21 L471.24,254.07 L471.81,253.92 L472.38,253.77 L472.94,253.61 L473.51,253.44 L474.08,253.26 L474.64,253.07 L475.21,252.87 L475.78,252.65 L476.34,252.43 L476.91,252.20 L477.47,251.95 L478.04,251.69 L478.61,251.42 L479.17,251.14 L479.74,250.84 L480.31,250.52 L480.87,250.19 L481.44,249.84 L482.01,249.47 L482.57,249.09 L483.14,248.68 L483.70,248.26 L484.27,247.82 L484.84,247.36 L485.40,246.87 L485.97,246.36 L486.54,245.83 L487.10,245.27 L487.67,244.69 L488.23,244.08 L488.80,243.44 L489.37,242.77 L489.93,242.08 L490.50,241.35 L491.07,240.59 L491.63,239.80 L492.20,238.98 L492.77,238.12 L493.33,237.23 L493.90,236.30 L494.46,235.33 L495.03,234.32 L495.60,233.27 L496.16,232.18 L496.73,231.05 L497.30,229.87 L497.86,228.65 L498.43,227.38 L499.00,226.07 L499.56,224.71 L500.13,223.30 L500.69,221.83 L501.26,220.32 L501.83,218.76 L502.39,217.14 L502.96,215.47 L503.53,213.74 L504.09,211.96 L504.66,210.12 L505.23,208.22 L505.79,206.27 L506.36,204.25 L506.92,202.18 L507.49,200.05 L508.06,197.86 L508.62,195.60 L509.19,193.29 L509.76,190.91 L510.32,188.48 L510.89,185.98 L511.45,183.42 L512.02,180.80 L512.59,178.12 L513.15,175.38 L513.72,172.58 L514.29,169.72 L514.85,166.81 L515.42,163.83 L515.99,160.80 L516.55,157.72 L517.12,154.59 L517.68,151.40 L518.25,148.16 L518.82,144.88 L519.38,141.55 L519.95,138.18 L520.52,134.76 L521.08,131.31 L521.65,127.82 L522.22,124.31 L522.78,120.76 L523.35,117.18 L523.91,113.59 L524.48,109.97 L525.05,106.34 L525.61,102.70 L526.18,99.05 L526.75,95.40 L527.31,91.75 L527.88,88.11 L528.45,84.48 L529.01,80.86 L529.58,77.27 L530.14,73.70 L530.71,70.17 L531.28,66.67 L531.84,63.22 L532.41,59.82 L532.98,56.46 L533.54,53.17 L534.11,49.95 L534.67,46.79 L535.24,43.72 L535.81,40.72 L536.37,37.82 L536.94,35.00 L537.51,32.29 L538.07,29.69 L538.64,27.19 L539.21,24.82 L539.77,22.56 L540.34,20.44 L540.90,18.44 L541.47,16.58 L542.04,14.87 L542.60,13.30 L543.17,11.88 L543.74,10.62 L544.30,9.51 L544.87,8.57 L545.44,7.80 L546.00,7.19 L546.57,6.75 L547.13,6.49 L547.70,6.40 L548.27,6.50 L548.83,6.79 L549.40,7.29 L549.97,7.98 L550.53,8.86 L551.10,9.94 L551.66,11.21 L552.23,12.66 L552.80,14.31 L553.36,16.13 L553.93,18.13 L554.50,20.30 L555.06,22.65 L555.63,25.15 L556.20,27.82 L556.76,30.63 L557.33,33.59 L557.89,36.70 L558.46,39.93 L559.03,43.29 L559.59,46.77 L560.16,50.37 L560.73,54.06 L561.29,57.85 L561.86,61.74 L562.43,65.70 L562.99,69.74 L563.56,73.84 L564.12,78.00 L564.69,82.21 L565.26,86.46 L565.82,90.75 L566.39,95.06 L566.96,99.39 L567.52,103.73 L568.09,108.08 L568.66,112.42 L569.22,116.76 L569.79,121.07 L570.35,125.37 L570.92,129.63 L571.49,133.87 L572.05,138.06 L572.62,142.20 L573.19,146.29 L573.75,150.33 L574.32,154.30 L574.88,158.22 L575.45,162.06 L576.02,165.83 L576.58,169.52 L577.15,173.14 L577.72,176.67 L578.28,180.12 L578.85,183.48 L579.42,186.76 L579.98,189.95 L580.55,193.04 L581.11,196.05 L581.68,198.96 L582.25,201.78 L582.81,204.51 L583.38,207.14 L583.95,209.69 L584.51,212.14 L585.08,214.49 L585.65,216.76 L586.21,218.94 L586.78,221.03 L587.34,223.04 L587.91,224.96 L588.48,226.79 L589.04,228.55 L589.61,230.22 L590.18,231.82 L590.74,233.34 L591.31,234.78 L591.88,236.15 L592.44,237.46 L593.01,238.69 L593.57,239.87 L594.14,240.97 L594.71,242.02 L595.27,243.01 L595.84,243.94 L596.41,244.82 L596.97,245.65 L597.54,246.43 L598.10,247.16 L598.67,247.84 L599.24,248.49 L599.80,249.09 L600.37,249.65 L600.94,250.18 L601.50,250.67 L602.07,251.13 L602.64,251.55 L603.20,251.95 L603.77,252.32 L604.33,252.66 L604.90,252.98 L605.47,253.27 L606.03,253.55 L606.60,253.80 L607.17,254.03 L607.73,254.25 L608.30,254.44 L608.87,254.63 L609.43,254.79 L610.00,254.95 L610.56,255.09 L611.13,255.22 L611.70,255.34 L612.26,255.45 L612.83,255.55 L613.40,255.64 L613.96,255.72 L614.53,255.80 L615.09,255.87 L615.66,255.93 L616.23,255.99 L616.79,256.04 L617.36,256.09 L617.93,256.13 L618.49,256.17 L619.06,256.20 L619.63,256.23 L620.19,256.26 L620.76,256.29 L621.32,256.31 L621.89,256.33 L622.46,256.35 L623.02,256.37 L623.59,256.38 L624.16,256.39 L624.72,256.41 L625.29,256.42 L625.86,256.43 L626.42,256.43 L626.99,256.44 L627.55,256.45 L628.12,256.46 L628.69,256.46 L629.25,256.47 L629.82,256.47 L630.39,256.47 L630.95,256.48 L631.52,256.48 L632.09,256.48 L632.65,256.48 L633.22,256.49 L633.78,256.49 L634.35,256.49 L634.92,256.49 L635.48,256.49 L636.05,256.49 L636.62,256.49 L637.18,256.49 L637.75,256.50 L638.31,256.50 L638.88,256.50 L639.45,256.50 L640.01,256.50 L640.58,256.50 L641.15,256.50 L641.71,256.50 L642.28,256.50 L642.85,256.50 L643.41,256.50 L643.98,256.50 L644.54,256.50 L645.11,256.50 L645.68,256.50 L646.24,256.50 L646.81,256.50 L647.38,256.50 L647.94,256.50 L648.51,256.50 L649.08,256.50 L649.64,256.50 L650.21,256.50 L650.77,256.50 L651.34,256.50 L651.91,256.50 L652.47,256.50 L653.04,256.50 L653.61,256.50 L654.17,256.50 L654.74,256.50 L655.31,256.50 L655.87,256.50 L656.44,256.50 L657.00,256.50 L657.57,256.50 L658.14,256.50 L658.70,256.50 L659.27,256.50 L659.84,256.50 L660.40,256.50 L660.97,256.50 L661.53,256.50 L662.10,256.50 L662.67,256.50 L663.23,256.50 L663.80,256.50 L664.37,256.50 L664.93,256.50 L665.50,256.50 L666.07,256.50 L666.63,256.50 L667.20,256.50 L667.76,256.50 L668.33,256.50 L668.90,256.50 L669.46,256.50 L670.03,256.50 L670.60,256.50 L671.16,256.50 L671.73,256.50 L672.30,256.50 L672.86,256.50 L673.43,256.50 L673.99,256.50 L674.56,256.50 L675.13,256.50 L675.69,256.50 L676.26,256.50 L676.83,256.50 L677.39,256.50 L677.96,256.50 L678.52,256.50 L679.09,256.50 L679.66,256.50 L680.22,256.50 L680.79,256.50 L681.36,256.50 L681.92,256.50 L682.49,256.50 L683.06,256.50 L683.62,256.50 L684.19,256.50 L684.75,256.50 L685.32,256.50 L685.89,256.50 L686.45,256.50 L687.02,256.50 L687.59,256.50 L688.15,256.50 L688.72,256.50 L689.29,256.50 L689.85,256.50 L690.42,256.50 L690.98,256.50 L691.55,256.50 L692.12,256.50 L692.68,256.50 L693.25,256.50 L693.82,256.50 L694.38,256.50 L694.95,256.50 L695.52,256.50 L696.08,256.50 L696.65,256.50 L697.21,256.50 L697.78,256.50 L698.35,256.50 L698.91,256.50 L699.48,256.50 L700.05,256.50 L700.61,256.50 L701.18,256.50 L701.74,256.50 L702.31,256.50 L702.88,256.50 L703.44,256.50 L704.01,256.50 L704.58,256.50 L705.14,256.50 L705.71,256.50 L706.28,256.50 L706.84,256.50 L707.41,256.50 L707.97,256.50 L708.54,256.50 L709.11,256.50 L709.67,256.50 L710.24,256.50 L710.81,256.50 L711.37,256.50 L711.94,256.50 L712.51,256.50 L713.07,256.50 L713.64,256.50 L714.20,256.50 L714.77,256.50 L715.34,256.50 L715.90,256.50 L716.47,256.50" fill="none" stroke="#1ba3c4" stroke-width="2.8"/>
<path d="M459.35,256.29 L459.68,256.25 L460.00,256.20 L460.32,256.14 L460.65,256.08 L460.97,256.01 L461.29,255.93 L461.62,255.83 L461.94,255.72 L462.26,255.60 L462.59,255.45 L462.91,255.29 L463.24,255.11 L463.56,254.91 L463.88,254.68 L464.21,254.43 L464.53,254.15 L464.85,253.84 L465.18,253.49 L465.50,253.11 L465.82,252.69 L466.15,252.23 L466.47,251.74 L466.79,251.19 L467.12,250.61 L467.44,249.98 L467.77,249.30 L468.09,248.58 L468.41,247.81 L468.74,246.99 L469.06,246.12 L469.38,245.21 L469.71,244.25 L470.03,243.25 L470.35,242.21 L470.68,241.13 L471.00,240.02 L471.33,238.88 L471.65,237.72 L471.97,236.54 L472.30,235.34 L472.62,234.14 L472.94,232.94 L473.27,231.75 L473.59,230.57 L473.91,229.41 L474.24,228.29 L474.56,227.20 L474.89,226.16 L475.21,225.18 L475.53,224.25 L475.86,223.40 L476.18,222.62 L476.50,221.92 L476.83,221.32 L477.15,220.80 L477.47,220.38 L477.80,220.07 L478.12,219.86 L478.45,219.75 L478.77,219.75 L479.09,219.86 L479.42,220.07 L479.74,220.38 L480.06,220.80 L480.39,221.32 L480.71,221.92 L481.03,222.62 L481.36,223.40 L481.68,224.25 L482.01,225.18 L482.33,226.16 L482.65,227.20 L482.98,228.29 L483.30,229.41 L483.62,230.57 L483.95,231.75 L484.27,232.94 L484.59,234.14 L484.92,235.34 L485.24,236.54 L485.57,237.72 L485.89,238.88 L486.21,240.02 L486.54,241.13 L486.86,242.21 L487.18,243.25 L487.51,244.25 L487.83,245.21 L488.15,246.12 L488.48,246.99 L488.80,247.81 L489.12,248.58 L489.45,249.30 L489.77,249.98 L490.10,250.61 L490.42,251.19 L490.74,251.74 L491.07,252.23 L491.39,252.69 L491.71,253.11 L492.04,253.49 L492.36,253.84 L492.68,254.15 L493.01,254.43 L493.33,254.68 L493.66,254.91 L493.98,255.11 L494.30,255.29 L494.63,255.45 L494.95,255.60 L495.27,255.72 L495.60,255.83 L495.92,255.93 L496.24,256.01 L496.57,256.08 L496.89,256.14 L497.22,256.20 L497.54,256.25 L497.86,256.29" fill="none" stroke="#8cc07e" stroke-width="2.6"/>
<path d="M433.30,256.49 L433.87,256.49 L434.43,256.48 L435.00,256.48 L435.57,256.48 L436.13,256.48 L436.70,256.48 L437.26,256.47 L437.83,256.47 L438.40,256.47 L438.96,256.46 L439.53,256.46 L440.10,256.46 L440.66,256.45 L441.23,256.45 L441.80,256.44 L442.36,256.43 L442.93,256.43 L443.49,256.42 L444.06,256.41 L444.63,256.40 L445.19,256.39 L445.76,256.38 L446.33,256.37 L446.89,256.36 L447.46,256.34 L448.02,256.33 L448.59,256.31 L449.16,256.29 L449.72,256.27 L450.29,256.25 L450.86,256.22 L451.42,256.20 L451.99,256.17 L452.56,256.14 L453.12,256.10 L453.69,256.06 L454.25,256.02 L454.82,255.98 L455.39,255.93 L455.95,255.88 L456.52,255.83 L457.09,255.77 L457.65,255.70 L458.22,255.63 L458.79,255.56 L459.35,255.48 L459.92,255.39 L460.48,255.30 L461.05,255.20 L461.62,255.09 L462.18,254.97 L462.75,254.85 L463.32,254.71 L463.88,254.57 L464.45,254.41 L465.01,254.25 L465.58,254.07 L466.15,253.88 L466.71,253.68 L467.28,253.46 L467.85,253.23 L468.41,252.99 L468.98,252.73 L469.55,252.45 L470.11,252.15 L470.68,251.83 L471.24,251.50 L471.81,251.14 L472.38,250.76 L472.94,250.36 L473.51,249.93 L474.08,249.48 L474.64,249.00 L475.21,248.50 L475.78,247.96 L476.34,247.40 L476.91,246.80 L477.47,246.17 L478.04,245.51 L478.61,244.81 L479.17,244.08 L479.74,243.31 L480.31,242.49 L480.87,241.64 L481.44,240.75 L482.01,239.81 L482.57,238.82 L483.14,237.79 L483.70,236.71 L484.27,235.58 L484.84,234.41 L485.40,233.17 L485.97,231.89 L486.54,230.55 L487.10,229.15 L487.67,227.70 L488.23,226.19 L488.80,224.62 L489.37,222.99 L489.93,221.29 L490.50,219.53 L491.07,217.71 L491.63,215.83 L492.20,213.88 L492.77,211.86 L493.33,209.77 L493.90,207.62 L494.46,205.40 L495.03,203.11 L495.60,200.76 L496.16,198.33 L496.73,195.84 L497.30,193.28 L497.86,190.65 L498.43,187.95 L499.00,185.19 L499.56,182.36 L500.13,179.46 L500.69,176.51 L501.26,173.48 L501.83,170.40 L502.39,167.26 L502.96,164.06 L503.53,160.80 L504.09,157.49 L504.66,154.13 L505.23,150.72 L505.79,147.26 L506.36,143.76 L506.92,140.22 L507.49,136.64 L508.06,133.02 L508.62,129.38 L509.19,125.70 L509.76,122.01 L510.32,118.29 L510.89,114.56 L511.45,110.81 L512.02,107.06 L512.59,103.30 L513.15,99.55 L513.72,95.81 L514.29,92.07 L514.85,88.35 L515.42,84.66 L515.99,80.98 L516.55,77.34 L517.12,73.74 L517.68,70.18 L518.25,66.67 L518.82,63.20 L519.38,59.80 L519.95,56.46 L520.52,53.18 L521.08,49.98 L521.65,46.86 L522.22,43.82 L522.78,40.86 L523.35,38.00 L523.91,35.24 L524.48,32.58 L525.05,30.03 L525.61,27.59 L526.18,25.26 L526.75,23.06 L527.31,20.97 L527.88,19.02 L528.45,17.19 L529.01,15.50 L529.58,13.95 L530.14,12.53 L530.71,11.26 L531.28,10.13 L531.84,9.14 L532.41,8.31 L532.98,7.62 L533.54,7.09 L534.11,6.71 L534.67,6.48 L535.24,6.40 L535.81,6.48 L536.37,6.71 L536.94,7.09 L537.51,7.62 L538.07,8.31 L538.64,9.14 L539.21,10.13 L539.77,11.26 L540.34,12.53 L540.90,13.95 L541.47,15.50 L542.04,17.19 L542.60,19.02 L543.17,20.97 L543.74,23.06 L544.30,25.26 L544.87,27.59 L545.44,30.03 L546.00,32.58 L546.57,35.24 L547.13,38.00 L547.70,40.86 L548.27,43.82 L548.83,46.86 L549.40,49.98 L549.97,53.18 L550.53,56.46 L551.10,59.80 L551.66,63.20 L552.23,66.67 L552.80,70.18 L553.36,73.74 L553.93,77.34 L554.50,80.98 L555.06,84.66 L555.63,88.35 L556.20,92.07 L556.76,95.81 L557.33,99.55 L557.89,103.30 L558.46,107.06 L559.03,110.81 L559.59,114.56 L560.16,118.29 L560.73,122.01 L561.29,125.70 L561.86,129.38 L562.43,133.02 L562.99,136.64 L563.56,140.22 L564.12,143.76 L564.69,147.26 L565.26,150.72 L565.82,154.13 L566.39,157.49 L566.96,160.80 L567.52,164.06 L568.09,167.26 L568.66,170.40 L569.22,173.48 L569.79,176.51 L570.35,179.46 L570.92,182.36 L571.49,185.19 L572.05,187.95 L572.62,190.65 L573.19,193.28 L573.75,195.84 L574.32,198.33 L574.88,200.76 L575.45,203.11 L576.02,205.40 L576.58,207.62 L577.15,209.77 L577.72,211.86 L578.28,213.88 L578.85,215.83 L579.42,217.71 L579.98,219.53 L580.55,221.29 L581.11,222.99 L581.68,224.62 L582.25,226.19 L582.81,227.70 L583.38,229.15 L583.95,230.55 L584.51,231.89 L585.08,233.17 L585.65,234.41 L586.21,235.58 L586.78,236.71 L587.34,237.79 L587.91,238.82 L588.48,239.81 L589.04,240.75 L589.61,241.64 L590.18,242.49 L590.74,243.31 L591.31,244.08 L591.88,244.81 L592.44,245.51 L593.01,246.17 L593.57,246.80 L594.14,247.40 L594.71,247.96 L595.27,248.50 L595.84,249.00 L596.41,249.48 L596.97,249.93 L597.54,250.36 L598.10,250.76 L598.67,251.14 L599.24,251.50 L599.80,251.83 L600.37,252.15 L600.94,252.45 L601.50,252.73 L602.07,252.99 L602.64,253.23 L603.20,253.46 L603.77,253.68 L604.33,253.88 L604.90,254.07 L605.47,254.25 L606.03,254.41 L606.60,254.57 L607.17,254.71 L607.73,254.85 L608.30,254.97 L608.87,255.09 L609.43,255.20 L610.00,255.30 L610.56,255.39 L611.13,255.48 L611.70,255.56 L612.26,255.63 L612.83,255.70 L613.40,255.77 L613.96,255.83 L614.53,255.88 L615.09,255.93 L615.66,255.98 L616.23,256.02 L616.79,256.06 L617.36,256.10 L617.93,256.14 L618.49,256.17 L619.06,256.20 L619.63,256.22 L620.19,256.25 L620.76,256.27 L621.32,256.29 L621.89,256.31 L622.46,256.33 L623.02,256.34 L623.59,256.36 L624.16,256.37 L624.72,256.38 L625.29,256.39 L625.86,256.40 L626.42,256.41 L626.99,256.42 L627.55,256.43 L628.12,256.43 L628.69,256.44 L629.25,256.45 L629.82,256.45 L630.39,256.46 L630.95,256.46 L631.52,256.46 L632.09,256.47 L632.65,256.47 L633.22,256.47 L633.78,256.48 L634.35,256.48 L634.92,256.48 L635.48,256.48 L636.05,256.48 L636.62,256.49 L637.18,256.49 L637.75,256.49 L638.31,256.49 L638.88,256.49 L639.45,256.49 L640.01,256.49 L640.58,256.49 L641.15,256.49 L641.71,256.50 L642.28,256.50 L642.85,256.50 L643.41,256.50 L643.98,256.50 L644.54,256.50 L645.11,256.50 L645.68,256.50 L646.24,256.50 L646.81,256.50 L647.38,256.50 L647.94,256.50 L648.51,256.50 L649.08,256.50 L649.64,256.50 L650.21,256.50 L650.77,256.50 L651.34,256.50 L651.91,256.50 L652.47,256.50 L653.04,256.50 L653.61,256.50 L654.17,256.50 L654.74,256.50 L655.31,256.50 L655.87,256.50 L656.44,256.50 L657.00,256.50 L657.57,256.50 L658.14,256.50 L658.70,256.50 L659.27,256.50 L659.84,256.50 L660.40,256.50 L660.97,256.50 L661.53,256.50 L662.10,256.50 L662.67,256.50 L663.23,256.50 L663.80,256.50 L664.37,256.50 L664.93,256.50 L665.50,256.50 L666.07,256.50 L666.63,256.50 L667.20,256.50 L667.76,256.50 L668.33,256.50 L668.90,256.50 L669.46,256.50 L670.03,256.50 L670.60,256.50 L671.16,256.50 L671.73,256.50 L672.30,256.50 L672.86,256.50 L673.43,256.50 L673.99,256.50 L674.56,256.50 L675.13,256.50 L675.69,256.50 L676.26,256.50 L676.83,256.50 L677.39,256.50 L677.96,256.50 L678.52,256.50 L679.09,256.50 L679.66,256.50 L680.22,256.50 L680.79,256.50 L681.36,256.50 L681.92,256.50 L682.49,256.50 L683.06,256.50 L683.62,256.50 L684.19,256.50 L684.75,256.50 L685.32,256.50 L685.89,256.50 L686.45,256.50 L687.02,256.50 L687.59,256.50 L688.15,256.50 L688.72,256.50 L689.29,256.50 L689.85,256.50 L690.42,256.50 L690.98,256.50 L691.55,256.50 L692.12,256.50 L692.68,256.50 L693.25,256.50 L693.82,256.50 L694.38,256.50 L694.95,256.50 L695.52,256.50 L696.08,256.50 L696.65,256.50 L697.21,256.50 L697.78,256.50 L698.35,256.50 L698.91,256.50 L699.48,256.50 L700.05,256.50 L700.61,256.50 L701.18,256.50 L701.74,256.50 L702.31,256.50 L702.88,256.50 L703.44,256.50 L704.01,256.50 L704.58,256.50 L705.14,256.50 L705.71,256.50 L706.28,256.50 L706.84,256.50 L707.41,256.50 L707.97,256.50 L708.54,256.50 L709.11,256.50 L709.67,256.50 L710.24,256.50 L710.81,256.50 L711.37,256.50 L711.94,256.50 L712.51,256.50 L713.07,256.50 L713.64,256.50 L714.20,256.50 L714.77,256.50 L715.34,256.50 L715.90,256.50 L716.47,256.50" fill="none" stroke="#000" stroke-width="2.4"/>
</g>
<path d="M455.95,252.08l2.85,3.80l-2.85,3.80l-2.85,-3.80z" fill="none" stroke="#222" stroke-width="0.55"/>
<path d="M463.88,250.77l2.85,3.80l-2.85,3.80l-2.85,-3.80z" fill="none" stroke="#222" stroke-width="0.55"/>
<path d="M471.81,247.34l2.85,3.80l-2.85,3.80l-2.85,-3.80z" fill="none" stroke="#222" stroke-width="0.55"/>
<path d="M479.74,239.51l2.85,3.80l-2.85,3.80l-2.85,-3.80z" fill="none" stroke="#222" stroke-width="0.55"/>
<path d="M487.67,223.90l2.85,3.80l-2.85,3.80l-2.85,-3.80z" fill="none" stroke="#222" stroke-width="0.55"/>
<path d="M495.60,196.96l2.85,3.80l-2.85,3.80l-2.85,-3.80z" fill="none" stroke="#222" stroke-width="0.55"/>
<path d="M503.53,157.00l2.85,3.80l-2.85,3.80l-2.85,-3.80z" fill="none" stroke="#222" stroke-width="0.55"/>
<path d="M511.45,107.01l2.85,3.80l-2.85,3.80l-2.85,-3.80z" fill="none" stroke="#222" stroke-width="0.55"/>
<path d="M519.38,56.00l2.85,3.80l-2.85,3.80l-2.85,-3.80z" fill="none" stroke="#222" stroke-width="0.55"/>
<path d="M527.31,17.17l2.85,3.80l-2.85,3.80l-2.85,-3.80z" fill="none" stroke="#222" stroke-width="0.55"/>
<path d="M535.24,2.60l2.85,3.80l-2.85,3.80l-2.85,-3.80z" fill="none" stroke="#222" stroke-width="0.55"/>
<path d="M543.17,17.17l2.85,3.80l-2.85,3.80l-2.85,-3.80z" fill="none" stroke="#222" stroke-width="0.55"/>
<path d="M551.10,56.00l2.85,3.80l-2.85,3.80l-2.85,-3.80z" fill="none" stroke="#222" stroke-width="0.55"/>
<path d="M559.03,107.01l2.85,3.80l-2.85,3.80l-2.85,-3.80z" fill="none" stroke="#222" stroke-width="0.55"/>
<path d="M566.96,157.00l2.85,3.80l-2.85,3.80l-2.85,-3.80z" fill="none" stroke="#222" stroke-width="0.55"/>
<path d="M574.88,196.96l2.85,3.80l-2.85,3.80l-2.85,-3.80z" fill="none" stroke="#222" stroke-width="0.55"/>
<path d="M582.81,223.90l2.85,3.80l-2.85,3.80l-2.85,-3.80z" fill="none" stroke="#222" stroke-width="0.55"/>
<path d="M590.74,239.51l2.85,3.80l-2.85,3.80l-2.85,-3.80z" fill="none" stroke="#222" stroke-width="0.55"/>
<path d="M598.67,247.34l2.85,3.80l-2.85,3.80l-2.85,-3.80z" fill="none" stroke="#222" stroke-width="0.55"/>
<path d="M606.60,250.77l2.85,3.80l-2.85,3.80l-2.85,-3.80z" fill="none" stroke="#222" stroke-width="0.55"/>
<path d="M614.53,252.08l2.85,3.80l-2.85,3.80l-2.85,-3.80z" fill="none" stroke="#222" stroke-width="0.55"/>
<path d="M589,21.2H619.3" stroke="#000" stroke-width="2.4"/>
<path d="M589,37.75H619.3" stroke="#1ba3c4" stroke-width="2.8"/>
<path d="M589,54.3H619.3" stroke="#8cc07e" stroke-width="2.6"/>
<rect x="589.2" y="64.64999999999999" width="30.399999999999956" height="12.3" fill="#ff0000"/>
<path d="M604.15,83.60l2.85,3.80l-2.85,3.80l-2.85,-3.80z" fill="none" stroke="#222" stroke-width="0.55"/>
<text transform="translate(622.60,22.80) rotate(0.02) scale(0.987,1)" text-anchor="start">t<tspan dy="4.8" font-size="8.0" stroke="#111" stroke-width="0.2">ss</tspan><tspan dy="-4.8" stroke="none">: steady state</tspan></text>
<text transform="translate(622.60,39.35) rotate(0.02) scale(0.987,1)" text-anchor="start">t<tspan dy="4.8" font-size="8.0" stroke="#111" stroke-width="0.2">ss</tspan><tspan dy="-4.8" stroke="none">: growth and stagnation</tspan></text>
<text transform="translate(622.60,55.90) rotate(0.02) scale(0.987,1)" text-anchor="start">t<tspan dy="4.8" font-size="8.0" stroke="#111" stroke-width="0.2">ss</tspan><tspan dy="-4.8" stroke="none">: nucleation−addition</tspan></text>
<text transform="translate(622.60,72.45) rotate(0.02) scale(0.987,1)" text-anchor="start">t<tspan dy="4.8" font-size="8.0" stroke="#111" stroke-width="0.2">ss</tspan><tspan dy="-4.8" stroke="none">: nucleation−consumption</tspan></text>
<text transform="translate(622.60,89.00) rotate(0.02) scale(0.987,1)" text-anchor="start">t<tspan dy="4.8" font-size="8.0" stroke="#111" stroke-width="0.2">ss+Δt</tspan><tspan dy="-4.8" stroke="none">: steady state</tspan></text>
<text x="584.38" y="315.3" text-anchor="middle" font-family="Liberation Serif, serif" font-size="16.5" fill="#000">(<tspan font-weight="bold">b</tspan>)</text>
</svg>
</body></html>
